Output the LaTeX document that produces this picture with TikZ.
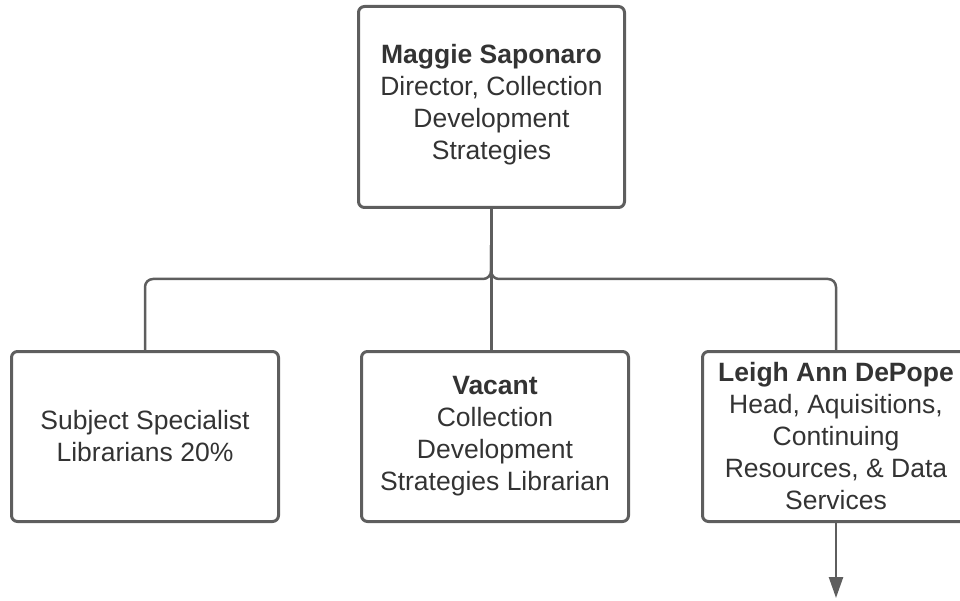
\documentclass[tikz,border=0pt]{standalone}
\usepackage{fontspec}
\setmainfont{Liberation Sans}
\usetikzlibrary{arrows.meta, positioning}
\definecolor{linegray}{RGB}{94,94,94}
\definecolor{textgray}{RGB}{51,51,51}
\tikzset{
    person/.style={draw=linegray, line width=3pt, rounded corners=6pt, align=center,
        text=textgray, font=\fontsize{26.5}{32}\selectfont, inner sep=0pt},
    topbox/.style={person, minimum width=266pt, minimum height=201pt},
    staffbox/.style={person, minimum width=267pt, minimum height=170pt},
    link/.style={draw=linegray, line width=2.5pt, rounded corners=8pt}
}

\begin{document}
\begin{tikzpicture}[x=1pt, y=-1pt, >={Triangle[width=14pt,length=21pt]}]
    \useasboundingbox (0,0) rectangle (960,601);
    \node (director) at (491.5,107)[topbox, text depth=10pt]{\textbf{Maggie Saponaro}\\Director, Collection\\Development\\Strategies};
    \node (specialists) at (145,436.5)[staffbox]{Subject Specialist\\Librarians 20\%};
    \node (vacant) at (495,436.5)[staffbox]{\textbf{Vacant}\\Collection\\Development\\Strategies Librarian};
    \node (depope) at (836,436.5)[staffbox]{\textbf{Leigh Ann DePope}\\Head, Aquisitions,\\Continuing\\Resources, \& Data\\Services};

    \coordinate (bus) at (491,279);
    \coordinate (below) at (836,598);

    \draw[link] (specialists.north) |- (bus) -- (director.south);
    \draw[link] (depope.north) |- (bus) -- (director.south);
    \draw[link] (director.south) -- (director.south |- vacant.north);
    \draw[link, ->] (depope.south) -- (below);
\end{tikzpicture}
\end{document}
